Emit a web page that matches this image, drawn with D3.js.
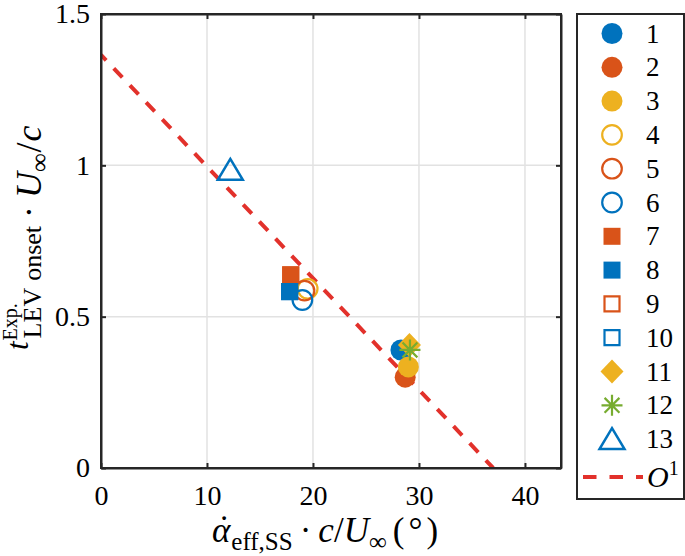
<!DOCTYPE html>
<html><head><meta charset="utf-8">
<script src="https://cdn.jsdelivr.net/npm/d3@7"></script>
<style>
body{margin:0;background:#fff}
svg text{font-family:"Liberation Serif","DejaVu Serif",serif;fill:#000}
</style>
</head><body>
<svg id="chart" width="685" height="556"></svg>
<script>
// ---- data ----
const seriesLabels = ["1","2","3","4","5","6","7","8","9","10","11","12","13"];
const seriesX = [28.3, 28.7, 29.0, 19.5, 19.2, 19.0, 17.9, 17.8, 17.9, 17.8, 29.1, 29.15, 12.2];
const seriesY = [0.390, 0.300, 0.334, 0.592, 0.586, 0.555, 0.638, 0.583, 0.638, 0.583, 0.406, 0.390, 0.985];
const seriesColors = ["#0072BD","#D95319","#EDB120","#EDB120","#D95319","#0072BD","#D95319","#0072BD","#D95319","#0072BD","#EDB120","#77AC30","#0072BD"];
const seriesMarkers = ["o","o","o","o","o","o","s","s","s","s","d","*","^"];
const seriesFilled = [true,true,true,false,false,false,true,true,false,false,true,false,false];
const fitLabel = "O";
const fitX = [0, 37.0];
const fitY = [1.365, 0];
const xTicks = [0, 10, 20, 30, 40];
const xTickLabels = ["0","10","20","30","40"];
const yTicks = [0, 0.5, 1, 1.5];
const yTickLabels = ["0","0.5","1","1.5"];

// ---- layout ----
const svg = d3.select("#chart");
const L = 101, R = 561, T = 14, B = 468;
const x = d3.scaleLinear().domain([0, 43.4]).range([L, R]);
const y = d3.scaleLinear().domain([0, 1.5]).range([B, T]);
const axisColor = "#262626";
const fitColor = "#E2312B";

// grid
const g = svg.append("g");
g.selectAll(".gx").data(xTicks.filter(v => v > 0)).enter().append("line")
  .attr("x1", d => x(d)).attr("x2", d => x(d)).attr("y1", T).attr("y2", B)
  .attr("stroke", "#e2e2e2").attr("stroke-width", 1.5);
g.selectAll(".gy").data(yTicks.filter(v => v > 0 && v < 1.5)).enter().append("line")
  .attr("y1", d => y(d)).attr("y2", d => y(d)).attr("x1", L).attr("x2", R)
  .attr("stroke", "#e2e2e2").attr("stroke-width", 1.5);

// fit line
svg.append("clipPath").attr("id", "pc").append("rect")
  .attr("x", L).attr("y", T).attr("width", R - L).attr("height", B - T);
const fitLine = d3.line().x(d => x(d[0])).y(d => y(d[1]));
svg.append("path").datum(d3.zip(fitX, fitY)).attr("d", fitLine)
  .attr("clip-path", "url(#pc)")
  .attr("fill", "none").attr("stroke", fitColor).attr("stroke-width", 4)
  .attr("stroke-dasharray", "12.5,11").attr("stroke-dashoffset", 5);

// marker path generator
function markerPath(m, filled) {
  if (m === "o") { const r = filled ? 10.5 : 9.8; return d3.arc()({innerRadius:0, outerRadius:r, startAngle:0, endAngle:2*Math.PI}); }
  if (m === "s") { const h = filled ? 8.5 : 7.5; return `M${-h},${-h}H${h}V${h}H${-h}Z`; }
  if (m === "d") { return `M0,-12L11.5,0L0,12L-11.5,0Z`; }
  if (m === "*") {
    const r = 10.5; let p = "";
    for (let i = 0; i < 4; i++) { const a = i * Math.PI / 4; p += `M${-r*Math.cos(a)},${-r*Math.sin(a)}L${r*Math.cos(a)},${r*Math.sin(a)}`; }
    return p;
  }
  if (m === "^") { return `M0,-11L12.5,10L-12.5,10Z`; }
}
function drawMarker(sel, i) {
  const filled = seriesFilled[i];
  sel.append("path").attr("d", markerPath(seriesMarkers[i], filled))
    .attr("fill", filled ? seriesColors[i] : "none")
    .attr("stroke", filled ? "none" : seriesColors[i])
    .attr("stroke-width", seriesMarkers[i] === "^" ? 2.5 : 2.2)
    .attr("stroke-linejoin", "miter");
}

// points
seriesLabels.forEach((lab, i) => {
  const mg = svg.append("g").attr("transform", `translate(${x(seriesX[i])},${y(seriesY[i])})`);
  drawMarker(mg, i);
});

// axes box
const axB = d3.axisBottom(x).tickValues(xTicks).tickFormat((d, i) => xTickLabels[i]).tickSizeInner(-5).tickSizeOuter(0).tickPadding(17);
const axT = d3.axisTop(x).tickValues(xTicks).tickFormat("").tickSizeInner(-5).tickSizeOuter(0);
const axLf = d3.axisLeft(y).tickValues(yTicks).tickFormat((d, i) => yTickLabels[i]).tickSizeInner(-5).tickSizeOuter(0).tickPadding(11);
const axRt = d3.axisRight(y).tickValues(yTicks).tickFormat("").tickSizeInner(-5).tickSizeOuter(0);
function styleAxis(a) {
  a.select(".domain").attr("stroke", axisColor).attr("stroke-width", 2);
  a.selectAll(".tick line").attr("stroke", axisColor).attr("stroke-width", 2);
  a.selectAll(".tick text").attr("font-size", 28).attr("font-family", "Liberation Serif").attr("fill", "#000");
}
styleAxis(svg.append("g").attr("transform", `translate(0,${B})`).call(axB));
styleAxis(svg.append("g").attr("transform", `translate(0,${T})`).call(axT));
styleAxis(svg.append("g").attr("transform", `translate(${L},0)`).call(axLf));
styleAxis(svg.append("g").attr("transform", `translate(${R},0)`).call(axRt));
svg.append("rect").attr("x", L).attr("y", T).attr("width", R - L).attr("height", B - T)
  .attr("fill", "none").attr("stroke", axisColor).attr("stroke-width", 2);

// sequential text layout helper
function layout(parent, pieces) {
  let cx = 0;
  pieces.forEach(p => {
    const t = parent.append("text").attr("x", cx + (p.dx || 0)).attr("y", p.dy || 0)
      .attr("font-size", p.size).text(p.t);
    if (p.italic) t.attr("font-style", "italic");
    p.x0 = cx + (p.dx || 0);
    p.w = t.node().getComputedTextLength();
    cx = p.x0 + p.w + (p.after || 0);
  });
  return cx;
}

// x label
const xlg = svg.append("g");
const xPieces = [
  {t:"\u03B1", size:35, italic:true},
  {t:"eff,SS", size:25, dy:8, dx:1},
  {t:"\u00B7", size:35, dx:7, after:7},
  {t:"c", size:35, italic:true},
  {t:"/", size:35},
  {t:"U", size:35, italic:true},
  {t:"\u221E", size:25, dy:8},
  {t:"(", size:35, dx:6, after:4},
  {t:"\u00B0", size:35, after:4},
  {t:")", size:35}
];
const xw = layout(xlg, xPieces);
xlg.append("text").attr("x", xPieces[0].x0 + xPieces[0].w / 2 + 3).attr("y", -2)
  .attr("text-anchor", "middle").attr("font-size", 35).text("\u02D9");
xlg.attr("transform", `translate(${325 - xw / 2},542)`);

// y label
const ylg = svg.append("g");
const tT = ylg.append("text").attr("x", 0).attr("y", -13).attr("font-size", 31).attr("font-style", "italic").text("t");
const tw = tT.node().getComputedTextLength();
ylg.append("text").attr("x", tw + 1).attr("y", -24).attr("font-size", 20).text("Exp.");
const yRest = ylg.append("g").attr("transform", `translate(${tw + 3},0)`);
const yPieces = [
  {t:"LEV", size:26, after:7},
  {t:"onset", size:26},
  {t:"\u00B7", size:36, dx:8, after:8},
  {t:"U", size:36, italic:true},
  {t:"\u221E", size:26, dy:7},
  {t:"/", size:36, dx:1},
  {t:"c", size:36, italic:true, dx:1}
];
layout(yRest, yPieces);
ylg.attr("transform", "translate(41,350) rotate(-90)");

// legend
const lg = svg.append("g");
lg.append("rect").attr("x", 577).attr("y", 14).attr("width", 107).attr("height", 485)
  .attr("fill", "#fff").attr("stroke", axisColor).attr("stroke-width", 2);
seriesLabels.forEach((lab, i) => {
  const cy = 33.5 + i * 33.8;
  const mg = lg.append("g").attr("transform", `translate(612,${cy})`);
  drawMarker(mg, i);
  lg.append("text").attr("x", 646).attr("y", cy + 9).attr("font-size", 27).text(lab);
});
const fy = 477;
lg.append("line").attr("x1", 583).attr("x2", 643).attr("y1", fy).attr("y2", fy)
  .attr("stroke", fitColor).attr("stroke-width", 4).attr("stroke-dasharray", "13.5,13");
const ft = lg.append("text").attr("x", 647).attr("y", fy + 10).attr("font-size", 30);
ft.append("tspan").attr("font-style", "italic").text(fitLabel);
ft.append("tspan").attr("font-size", 20).attr("dy", -12).text("1");
</script>
</body></html>
